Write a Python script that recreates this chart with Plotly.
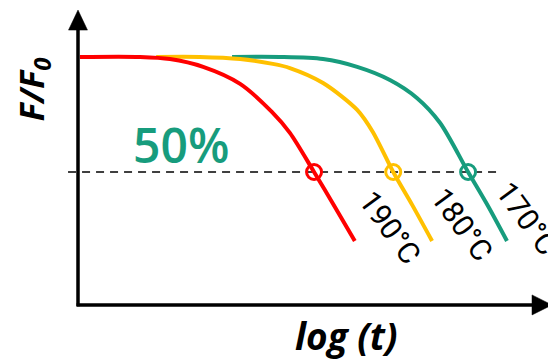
import plotly.graph_objects as go

# ---- data (x = log(t) units, y = F/F0) ----
red_x = [0.04, 1.31, 1.94, 2.64, 3.42, 4.09, 4.47, 4.98, 5.42, 5.84]
red_y = [1.00, 1.00, 0.991, 0.957, 0.883, 0.761, 0.670, 0.50, 0.348, 0.20]

yellow_x = [1.65, 2.57, 3.42, 4.11, 4.47, 5.17, 5.89, 6.22, 6.65, 7.05, 7.47]
yellow_y = [1.00, 1.00, 0.991, 0.970, 0.952, 0.887, 0.770, 0.674, 0.50, 0.357, 0.20]

green_x = [3.25, 4.26, 5.17, 5.89, 6.58, 7.15, 7.64, 8.23, 8.65, 9.05]
green_y = [1.00, 1.00, 0.991, 0.957, 0.900, 0.822, 0.713, 0.50, 0.352, 0.20]

half_x = [4.98, 6.65, 8.23]
half_y = [0.5, 0.5, 0.5]
labels = ["190°C", "180°C", "170°C"]
label_x = [6.58, 8.10, 9.47]
label_y = [0.257, 0.270, 0.296]

dash_x = [-0.21, 8.86]
dash_y = [0.5, 0.5]

RED = "#FF0000"
YEL = "#FFC000"
GRN = "#179C7D"
colors = [RED, YEL, GRN]

fig = go.Figure()

# dashed 50% line
fig.add_trace(go.Scatter(x=dash_x, y=dash_y, mode="lines",
                         line=dict(color="black", width=1.6, dash="8px,6px"),
                         hoverinfo="skip"))

for xs, ys, c in [(green_x, green_y, GRN), (yellow_x, yellow_y, YEL), (red_x, red_y, RED)]:
    fig.add_trace(go.Scatter(x=xs, y=ys, mode="lines",
                             line=dict(color=c, width=4, shape="spline", smoothing=0.8)))

for i in range(3):
    fig.add_trace(go.Scatter(x=[half_x[i]], y=[half_y[i]], mode="markers",
                             marker=dict(symbol="circle-open", size=15, color=colors[i],
                                         line=dict(color=colors[i], width=3))))

# axes with arrowheads
AX_Y0 = -0.078
shapes = [
    dict(type="line", x0=0, y0=AX_Y0 - 0.006, x1=0, y1=1.12, xref="x", yref="y",
         line=dict(color="black", width=3.5)),
    dict(type="line", x0=-0.03, y0=AX_Y0, x1=9.6, y1=AX_Y0, xref="x", yref="y",
         line=dict(color="black", width=3.5)),
    dict(type="path", path="M 0,1.204 L -0.2,1.117 L 0.2,1.117 Z", xref="x", yref="y",
         fillcolor="black", line=dict(color="black", width=0.5)),
    dict(type="path", path=f"M 10.0,{AX_Y0} L 9.578,{AX_Y0 + 0.0435} L 9.578,{AX_Y0 - 0.0435} Z",
         xref="x", yref="y", fillcolor="black", line=dict(color="black", width=0.5)),
    dict(type="rect", x0=9.96, x1=10.08, y0=0.583, y1=0.444, xref="x", yref="y",
         fillcolor=GRN, line=dict(width=0)),
]

annotations = [
    dict(x=-0.95, y=0.86, xref="x", yref="y", showarrow=False, textangle=-90,
         text="<b><i>F/F<sub>0</sub></i></b>",
         font=dict(family="Open Sans", size=34, color="black")),
    dict(x=5.67, y=-0.21, xref="x", yref="y", showarrow=False,
         text="<b><i>log (t)</i></b>",
         font=dict(family="Open Sans", size=37, color="black")),
    dict(x=2.17, y=0.62, xref="x", yref="y", showarrow=False,
         text="50%", font=dict(family="Open Sans", size=48, color=GRN, weight=600)),
]
for i in range(3):
    annotations.append(dict(x=label_x[i], y=label_y[i], xref="x", yref="y", showarrow=False,
                            text=labels[i], textangle=54,
                            font=dict(family="Roboto", size=30, color="black")))

# page body has an 8px default margin: figure is 8px smaller so it fits the window
fig.update_layout(
    width=548, height=356,
    margin=dict(l=0, r=0, t=0, b=0),
    paper_bgcolor="white", plot_bgcolor="white",
    showlegend=False,
    xaxis=dict(range=[-1.4768, 10.0844], visible=False, fixedrange=True),
    yaxis=dict(range=[-0.3348, 1.2130], visible=False, fixedrange=True),
    shapes=shapes, annotations=annotations,
)

fig.write_html("out.html")
